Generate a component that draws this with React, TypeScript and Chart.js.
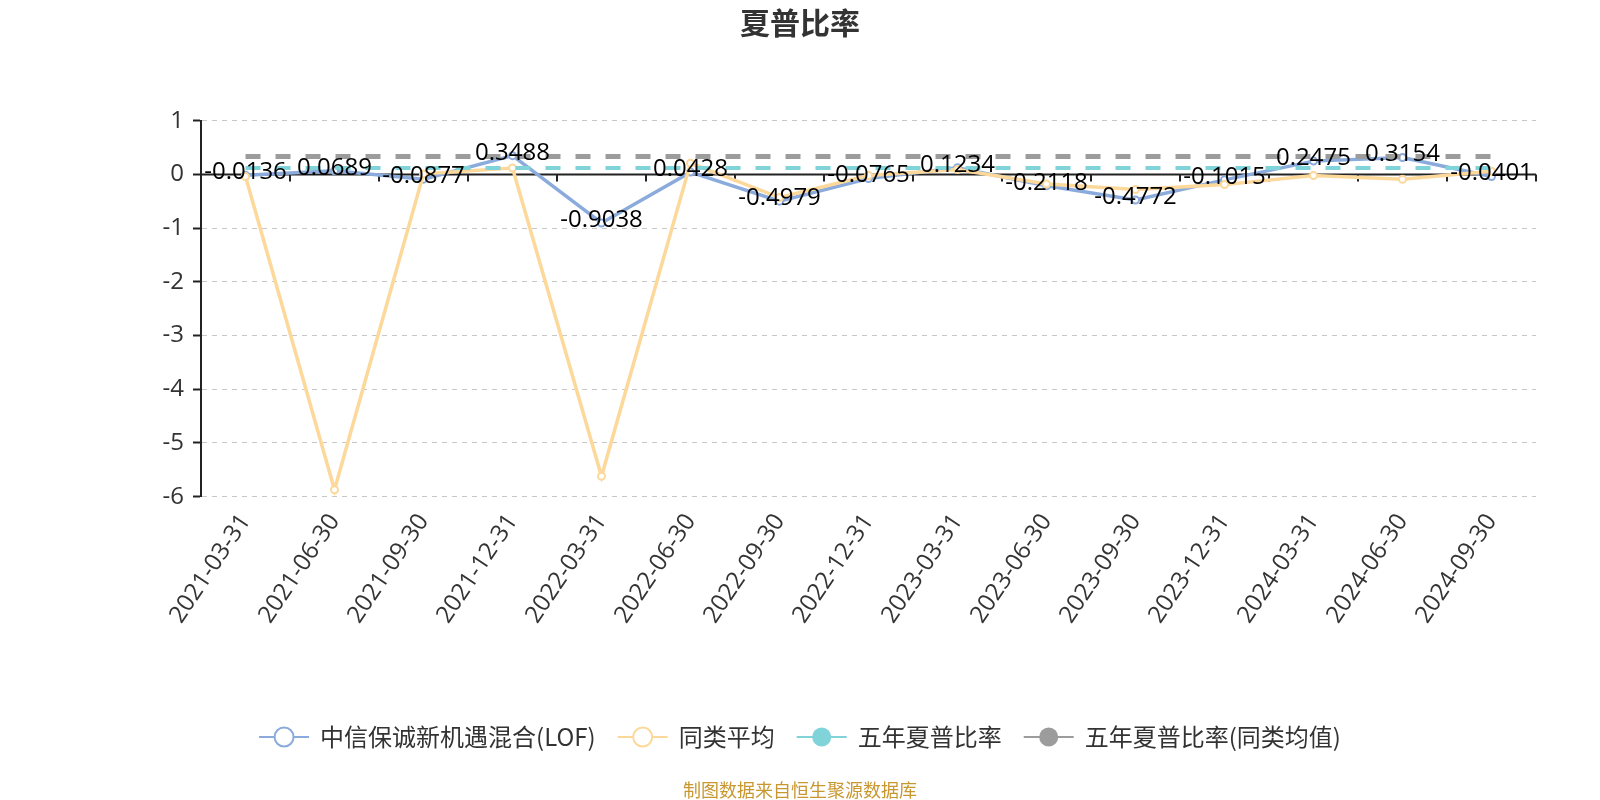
import React, { useEffect, useRef } from "react";
import { Chart, registerables } from "chart.js";

Chart.register(...registerables);

const categories = [
  "2021-03-31", "2021-06-30", "2021-09-30", "2021-12-31",
  "2022-03-31", "2022-06-30", "2022-09-30", "2022-12-31",
  "2023-03-31", "2023-06-30", "2023-09-30", "2023-12-31",
  "2024-03-31", "2024-06-30", "2024-09-30",
];
const fundValues = [
  -0.0136, 0.0689, -0.0877, 0.3488, -0.9038, 0.0428, -0.4979, -0.0765,
  0.1234, -0.2118, -0.4772, -0.1015, 0.2475, 0.3154, -0.0401,
];
const peerAverage = [
  -0.04, -5.87, 0.01, 0.12, -5.62, 0.21, -0.43, -0.02,
  0.09, -0.18, -0.28, -0.19, -0.02, -0.09, 0.06,
];
const fiveYearSharpe = 0.12;
const fiveYearSharpePeer = 0.335;
const seriesNames = ["中信保诚新机遇混合(LOF)", "同类平均", "五年夏普比率", "五年夏普比率(同类均值)"];
const titleText = "夏普比率";
const footerText = "制图数据来自恒生聚源数据库";
const yMin = -6;
const yMax = 1;

const BLUE = "#8aabdc";
const ORANGE = "#fdd89b";
const TEAL = "#80d3d8";
const GRAY = "#9c9c9c";
const FONT = "'Open Sans', 'Noto Sans CJK SC', sans-serif";
const CJK = "'Noto Sans CJK SC', 'Open Sans', sans-serif";

const legendColors = [BLUE, ORANGE, TEAL, GRAY];
const legendFilled = [false, false, true, true];

const decorPlugin = {
  id: "decor",
  beforeDatasetsDraw(chart: any) {
    const { ctx, chartArea } = chart;
    const y0 = chart.scales.y.getPixelForValue(0);
    ctx.save();
    ctx.strokeStyle = "#222";
    ctx.lineWidth = 2;
    ctx.beginPath();
    ctx.moveTo(chartArea.left, y0);
    ctx.lineTo(chartArea.right, y0);
    const n = categories.length;
    const step = (chartArea.right - chartArea.left) / n;
    for (let i = 0; i <= n; i++) {
      const x = Math.round(chartArea.left + i * step);
      ctx.moveTo(x, y0);
      ctx.lineTo(x, y0 + 7);
    }
    ctx.stroke();
    ctx.restore();
  },
  afterDatasetsDraw(chart: any) {
    const { ctx } = chart;
    const meta = chart.getDatasetMeta(0);
    ctx.save();
    ctx.font = `24px ${FONT}`;
    ctx.fillStyle = "#000";
    ctx.textAlign = "center";
    ctx.textBaseline = "middle";
    meta.data.forEach((pt: any, i: number) => {
      ctx.fillText(fundValues[i].toFixed(4), pt.x, pt.y - 3);
    });
    ctx.restore();
  },
  afterDraw(chart: any) {
    const { ctx } = chart;
    ctx.save();
    ctx.font = `bold 30px ${CJK}`;
    ctx.fillStyle = "#333";
    ctx.textAlign = "center";
    ctx.textBaseline = "middle";
    ctx.fillText(titleText, 800, 23);
    ctx.font = `24px ${CJK}`;
    const iconW = 50;
    const iconGap = 11;
    const itemGap = 22;
    const widths = seriesNames.map((s) => ctx.measureText(s).width);
    const total = widths.reduce((a, w) => a + iconW + iconGap + w, 0) + itemGap * (seriesNames.length - 1);
    let x = 800 - total / 2;
    const ly = 737;
    seriesNames.forEach((name, i) => {
      const c = legendColors[i];
      ctx.strokeStyle = c;
      ctx.lineWidth = 2;
      ctx.beginPath();
      ctx.moveTo(x, ly);
      ctx.lineTo(x + iconW, ly);
      ctx.stroke();
      ctx.beginPath();
      ctx.arc(x + iconW / 2, ly, 9.5, 0, Math.PI * 2);
      if (legendFilled[i]) {
        ctx.fillStyle = c;
        ctx.fill();
      } else {
        ctx.fillStyle = "#fff";
        ctx.fill();
        ctx.stroke();
      }
      ctx.fillStyle = "#333";
      ctx.textAlign = "left";
      ctx.textBaseline = "middle";
      ctx.fillText(name, x + iconW + iconGap, ly);
      x += iconW + iconGap + widths[i] + itemGap;
    });
    ctx.font = `18px ${CJK}`;
    ctx.fillStyle = "#c8972f";
    ctx.textAlign = "center";
    ctx.textBaseline = "middle";
    ctx.fillText(footerText, 800, 790);
    ctx.restore();
  },
};

export default function App() {
  const ref = useRef<HTMLCanvasElement>(null);
  useEffect(() => {
    const canvas = ref.current!;
    const chart = new Chart(canvas, {
      type: "line",
      data: {
        labels: categories,
        datasets: [
          {
            label: seriesNames[0],
            data: fundValues,
            borderColor: BLUE,
            borderWidth: 3.5,
            pointRadius: 3.5,
            pointBorderWidth: 2,
            pointBackgroundColor: "#fff",
            pointBorderColor: BLUE,
            tension: 0,
            order: 4,
          },
          {
            label: seriesNames[1],
            data: peerAverage,
            borderColor: ORANGE,
            borderWidth: 3.5,
            pointRadius: 3.5,
            pointBorderWidth: 2,
            pointBackgroundColor: "#fff",
            pointBorderColor: ORANGE,
            tension: 0,
            order: 3,
          },
          {
            label: seriesNames[2],
            data: categories.map(() => fiveYearSharpe),
            borderColor: TEAL,
            borderWidth: 4,
            borderDash: [15, 15],
            pointRadius: 0,
            order: 2,
          },
          {
            label: seriesNames[3],
            data: categories.map(() => fiveYearSharpePeer),
            borderColor: GRAY,
            borderWidth: 5,
            borderDash: [15, 15],
            pointRadius: 0,
            order: 1,
          },
        ],
      },
      options: {
        responsive: false,
        animation: false,
        layout: { padding: { top: 120.7, right: 64, bottom: 0, left: 0 } },
        plugins: {
          legend: { display: false },
          title: { display: false },
          tooltip: { enabled: false },
        },
        scales: {
          x: {
            type: "category",
            offset: true,
            grid: { display: false, drawTicks: false },
            border: { display: false },
            ticks: {
              color: "#333",
              font: { size: 24, family: FONT },
              minRotation: 56,
              maxRotation: 56,
              padding: 12,
              autoSkip: false,
            },
            afterFit: (s: any) => {
              s.height = 303.3;
            },
          },
          y: {
            min: yMin,
            max: yMax,
            ticks: { stepSize: 1, color: "#333", font: { size: 24, family: FONT }, padding: 9 },
            grid: { color: "#c8c8c8", lineWidth: 1, tickColor: "#222", tickLength: 8, tickWidth: 2 },
            border: { display: true, color: "#222", width: 2, dash: [5, 5] },
            afterFit: (s: any) => {
              s.width = 201;
            },
          },
        },
      },
      plugins: [decorPlugin],
    });
    return () => chart.destroy();
  }, []);
  return (
    <div style={{ position: "fixed", left: 0, top: 0, width: 1600, height: 800, background: "#fff" }}>
      <canvas ref={ref} width={1600} height={800} style={{ width: 1600, height: 800, display: "block" }} />
    </div>
  );
}
